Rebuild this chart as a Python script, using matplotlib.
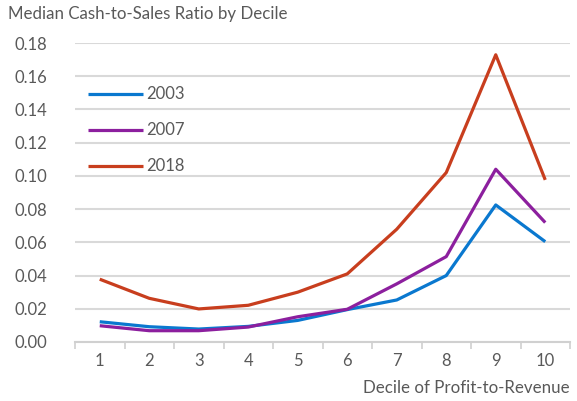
import matplotlib.pyplot as plt
import numpy as np

deciles = ['1', '2', '3', '4', '5', '6', '7', '8', '9', '10']
years = ['2003', '2007', '2018']
ratio_2003 = [0.0122, 0.0092, 0.0078, 0.0094, 0.0130, 0.0195, 0.0253, 0.0400, 0.0825, 0.0604]
ratio_2007 = [0.0098, 0.0068, 0.0068, 0.0090, 0.0152, 0.0197, 0.0350, 0.0514, 0.1040, 0.0719]
ratio_2018 = [0.0378, 0.0263, 0.0199, 0.0221, 0.0300, 0.0410, 0.0679, 0.1020, 0.1729, 0.0976]
yticks = [0.00, 0.02, 0.04, 0.06, 0.08, 0.10, 0.12, 0.14, 0.16, 0.18]

colors = ['#0A78CF', '#8C1F9E', '#C83E1E']
text_color = '#595959'

plt.rcParams['font.family'] = ['Lato', 'DejaVu Sans']

fig = plt.figure(figsize=(5.77, 4.01), dpi=100)
ax = fig.add_axes([75 / 577, 1 - 342 / 401, 495 / 577, 299 / 401])

x = np.arange(len(deciles))
for series, name, c in zip([ratio_2003, ratio_2007, ratio_2018], years, colors):
    ax.plot(x, series, color=c, linewidth=2.3, label=name, solid_capstyle='butt')

ax.set_xlim(-0.5, len(deciles) - 0.5)
ax.set_ylim(0, 0.18)
ax.set_yticks(yticks)
ax.set_yticklabels([f'{v:.2f}' for v in yticks])
ax.set_xticks(x)
ax.set_xticklabels(deciles)
ax.set_xticks(np.arange(-0.5, len(deciles)), minor=True)
ax.tick_params(axis='x', which='major', length=0, pad=8, labelsize=12, labelcolor=text_color)
ax.tick_params(axis='x', which='minor', length=5, width=1.2, color='#d0d0d0')
ax.tick_params(axis='y', length=0, pad=20, labelsize=12, labelcolor=text_color)

ax.grid(axis='y', color='#d9d9d9', linewidth=1.5)
ax.set_axisbelow(True)
for s in ['left', 'right', 'top']:
    ax.spines[s].set_visible(False)
ax.spines['bottom'].set_color('#d0d0d0')
ax.spines['bottom'].set_linewidth(1.5)

leg = ax.legend(loc='upper left', bbox_to_anchor=(-0.005, 0.905), frameon=False,
                fontsize=12, handlelength=3.3, handletextpad=0.2, labelspacing=1.2,
                labelcolor=text_color)

fig.text(8 / 577, 1 - 14 / 401, 'Median Cash-to-Sales Ratio by Decile', color=text_color,
         fontsize=12.2, va='center', ha='left')
fig.text(570 / 577, 1 - 388 / 401, 'Decile of Profit-to-Revenue', color=text_color,
         fontsize=12.2, va='center', ha='right')

fig.savefig('out.png', dpi=100)
